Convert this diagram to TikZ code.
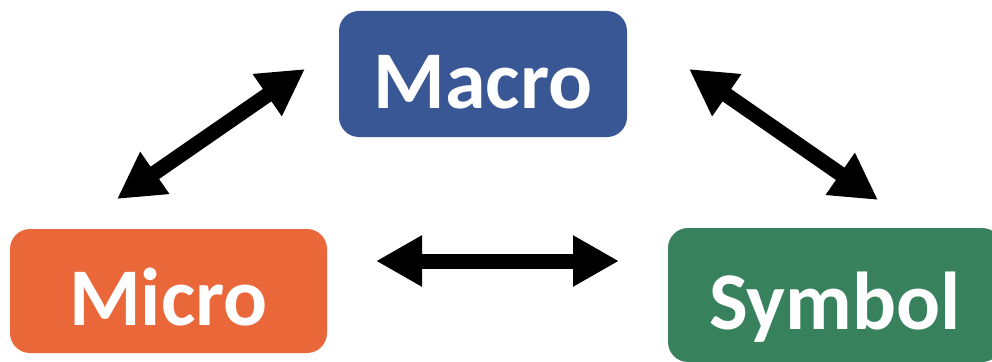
\documentclass[tikz,border=0pt]{standalone}
\usepackage{fontspec}
\setmainfont{Carlito}
\usetikzlibrary{arrows.meta}
\definecolor{macroblue}{HTML}{3A5795}
\definecolor{microorange}{HTML}{EA673A}
\definecolor{symbolgreen}{HTML}{37825D}
\begin{document}
\begin{tikzpicture}[x=1pt,y=-1pt,
      box/.style={rounded corners=20pt, inner sep=0pt, text=white,
        font=\fontsize{82}{90}\selectfont\bfseries, text height=68pt, text depth=0pt},
      arr/.style={{Triangle[length=46pt,width=48pt]}-{Triangle[length=46pt,width=48pt]}, line width=15pt}]
    \clip (0,0) rectangle (992,361);
    \node[box, fill=macroblue, minimum width=288pt, minimum height=126pt] (macro) at (483,74) {Macro};
    \node[box, fill=microorange, minimum width=317pt, minimum height=124pt] (micro) at (168.5,291) {Micro};
    \node[box, fill=symbolgreen, minimum width=334pt, minimum height=134pt] (symbol) at (835,295) {Symbol};
    % arrow ends
    \coordinate (l1) at (117,199);
    \coordinate (l2) at (305,69);
    \coordinate (r1) at (689,69);
    \coordinate (r2) at (878,200);
    \coordinate (m1) at (376,261);
    \coordinate (m2) at (619,261);
    \draw[arr] (l1) -- (l2);
    \draw[arr] (r1) -- (r2);
    \draw[arr] (m1) -- (m2);
  \end{tikzpicture}
\end{document}
